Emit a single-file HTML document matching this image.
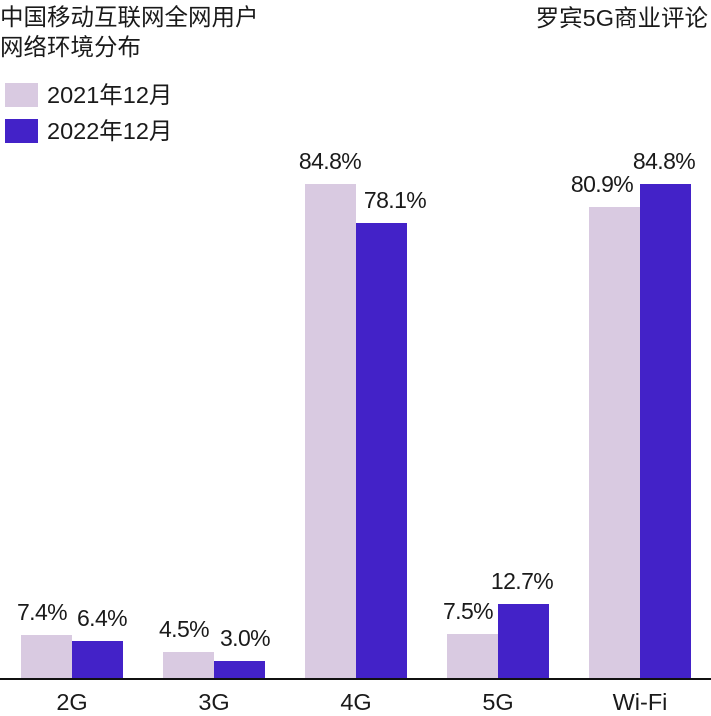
<!DOCTYPE html>
<html><head><meta charset="utf-8"><style>
body{margin:0;width:711px;height:714px;background:#fff;position:relative;overflow:hidden;font-family:"Liberation Sans","Noto Sans CJK SC",sans-serif;color:#1a1a1a}
.t{position:absolute;font-size:23.5px;line-height:28px;white-space:nowrap}
.b{position:absolute;width:51px}
.l{background:#d9cae1}.d{background:#4322c8}
.v{position:absolute;font-size:23px;width:100px;text-align:center;line-height:28px;letter-spacing:-0.6px}
.c{position:absolute;font-size:23.5px;width:102px;text-align:center;top:688px;line-height:28px}
</style></head><body>
<div class="t" style="left:0;top:2px;line-height:30px">中国移动互联网全网用户<br>网络环境分布</div>
<div class="t" style="right:3px;top:4px">罗宾5G商业评论</div>
<div style="position:absolute;left:5px;top:83px;width:33px;height:24px" class="l"></div>
<div class="t" style="left:47px;top:81px">2021年12月</div>
<div style="position:absolute;left:5px;top:119px;width:33px;height:24px" class="d"></div>
<div class="t" style="left:47px;top:117px">2022年12月</div>
<div style="position:absolute;left:0;top:678px;width:711px;height:2px;background:#111"></div>
<div id="bars"></div>
<script>
var d=[["2G",7.4,6.4,21,42,102],["3G",4.5,3.0,163,184,245],["4G",84.8,78.1,305,330,395],["5G",7.5,12.7,447,468,522],["Wi-Fi",80.9,84.8,589,602,664]];
var k=494/84.8,h="";
d.forEach(function(g){
 [[g[1],"l",g[3],g[4]],[g[2],"d",g[3]+51,g[5]]].forEach(function(b,i){
  var ht=Math.round(b[0]*k),top=678-ht;
  h+='<div class="b '+b[1]+'" style="left:'+b[2]+'px;top:'+top+'px;height:'+ht+'px"></div>';
  h+='<div class="v" style="left:'+(b[3]-50)+'px;top:'+(top-37)+'px">'+b[0].toFixed(1)+'%</div>';
 });
 h+='<div class="c" style="left:'+g[3]+'px">'+g[0]+'</div>';
});
document.getElementById("bars").innerHTML=h;
</script>
</body></html>
